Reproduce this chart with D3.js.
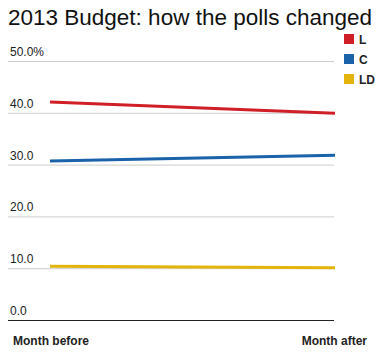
<!DOCTYPE html>
<html>
<head>
<meta charset="utf-8">
<script src="https://cdn.jsdelivr.net/npm/d3@7"></script>
<style>
  body { margin: 0; background: #fff; }
  svg { font-family: "Liberation Sans", Arial, sans-serif; }
</style>
</head>
<body>
<div id="chart"></div>
<script>
// data
const periods = ["Month before", "Month after"];
const parties = ["L", "C", "LD"];
const L  = [42.1, 39.9];
const C  = [30.7, 31.8];
const LD = [10.4, 10.1];
const yTicks = [0, 10, 20, 30, 40, 50];

const colors = { L: "#d01f27", C: "#1a63aa", LD: "#e2b40c" };
const seriesData = { L: L, C: C, LD: LD };

const W = 387, H = 359;
const svg = d3.select("#chart").append("svg")
  .attr("width", W)
  .attr("height", H);

// title
svg.append("text")
  .attr("x", 8)
  .attr("y", 25)
  .attr("font-size", "22.5px")
  .attr("fill", "#111")
  .text("2013 Budget: how the polls changed");

const x = d3.scalePoint().domain(periods).range([50, 335]);
const y = d3.scaleLinear().domain([0, 50]).range([320, 61]);

// gridlines
svg.selectAll(".grid")
  .data(yTicks.filter(d => d > 0))
  .enter().append("line")
    .attr("x1", 8).attr("x2", 334)
    .attr("y1", d => y(d) + 0.5).attr("y2", d => y(d) + 0.5)
    .attr("stroke", "#ccc")
    .attr("stroke-width", 1);

// baseline
svg.append("line")
  .attr("x1", 8).attr("x2", 334)
  .attr("y1", y(0) + 0.5).attr("y2", y(0) + 0.5)
  .attr("stroke", "#222")
  .attr("stroke-width", 1);

// tick labels
svg.selectAll(".ylab")
  .data(yTicks)
  .enter().append("text")
    .attr("x", 10)
    .attr("y", d => y(d) - 5)
    .attr("font-size", "12px")
    .attr("fill", "#222")
    .text(d => d.toFixed(1) + (d === 50 ? "%" : ""));

// lines
const line = d3.line()
  .x((d, i) => x(periods[i]))
  .y(d => y(d));

parties.forEach(p => {
  svg.append("path")
    .datum(seriesData[p])
    .attr("d", line)
    .attr("fill", "none")
    .attr("stroke", colors[p])
    .attr("stroke-width", 3);
});

// x labels
svg.append("text")
  .attr("x", 13).attr("y", 345)
  .attr("font-size", "12px").attr("font-weight", "bold")
  .attr("fill", "#222")
  .text(periods[0]);
svg.append("text")
  .attr("x", 367).attr("y", 345)
  .attr("text-anchor", "end")
  .attr("font-size", "12px").attr("font-weight", "bold")
  .attr("fill", "#222")
  .text(periods[1]);

// legend
const leg = svg.selectAll(".leg")
  .data(parties)
  .enter().append("g")
    .attr("transform", (d, i) => "translate(344," + (34 + i * 20) + ")");
leg.append("rect")
  .attr("width", 10).attr("height", 10)
  .attr("fill", d => colors[d]);
leg.append("text")
  .attr("x", 15).attr("y", 9.5)
  .attr("font-size", "12px").attr("font-weight", "bold")
  .attr("fill", "#222")
  .text(d => d);
</script>
</body>
</html>
